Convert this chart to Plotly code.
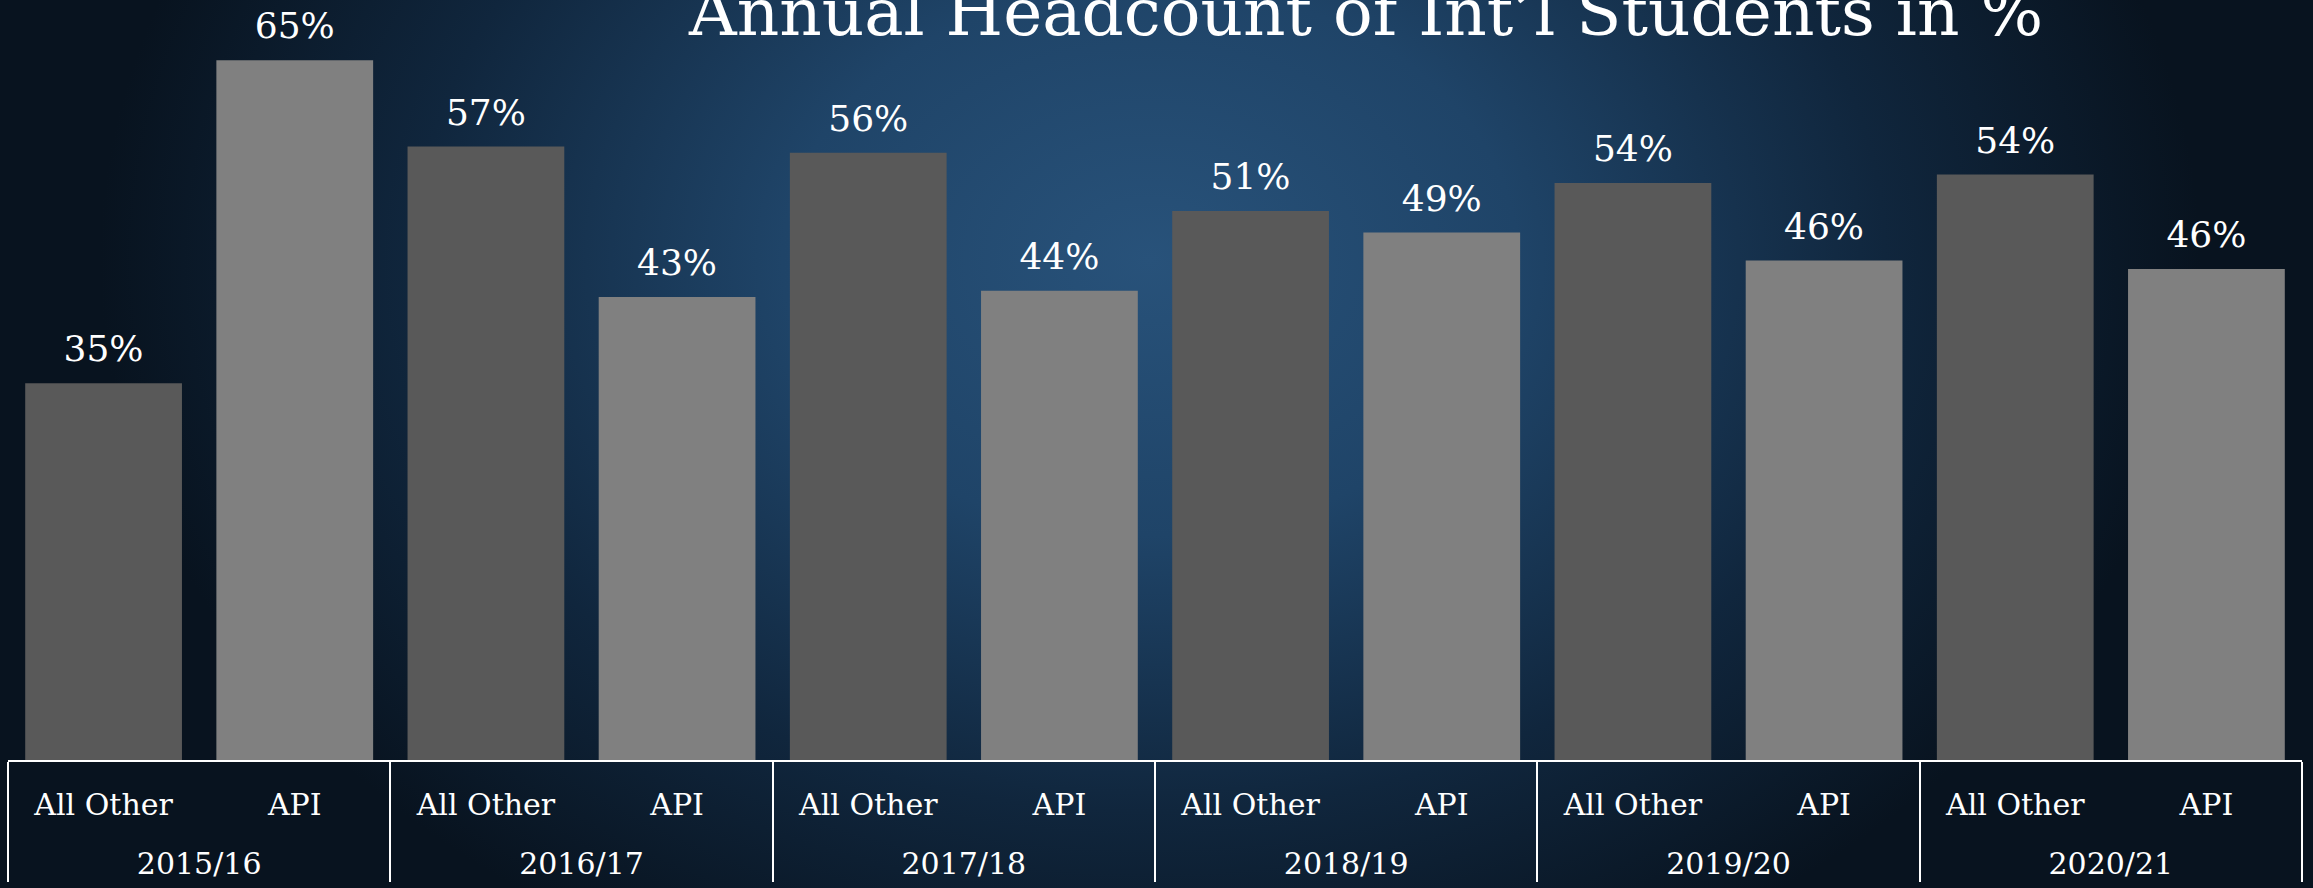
import base64
import plotly.graph_objects as go

# data
years = ["2015/16", "2016/17", "2017/18", "2018/19", "2019/20", "2020/21"]
groups = ["All Other", "API"]
all_other = [35, 57, 56.4, 51, 53.6, 54.4]
api = [65, 43, 43.6, 49, 46.4, 45.6]

W, H = 2313, 888
M = dict(l=8, r=11, t=0, b=128)
FONT = "DejaVu Serif, Liberation Serif, serif"
colors = {"All Other": "#595959", "API": "#808080"}

# interleave the two series so each year holds its pair
# (the trailing blank line on the inner label pushes the year row down)
x_year, x_group, vals, cols = [], [], [], []
for i, yr in enumerate(years):
    for g, v in zip(groups, [all_other[i], api[i]]):
        x_year.append(yr)
        x_group.append(g + "<br>\u00a0")
        vals.append(v)
        cols.append(colors[g])

# radial blue backdrop
svg = f"""<svg xmlns='http://www.w3.org/2000/svg' width='{W}' height='{H}' viewBox='0 0 {W} {H}' preserveAspectRatio='none'>
<defs><radialGradient id='g' gradientUnits='userSpaceOnUse' cx='1150' cy='260' r='1050'
 gradientTransform='translate(1150 260) scale(1 0.75) translate(-1150 -260)'>
<stop offset='0' stop-color='#28527a'/><stop offset='0.35' stop-color='#1f4468'/>
<stop offset='0.7' stop-color='#10263d'/><stop offset='1' stop-color='#08131f'/>
</radialGradient></defs><rect width='{W}' height='{H}' fill='url(#g)'/></svg>"""
bg = "data:image/svg+xml;base64," + base64.b64encode(svg.encode()).decode()

fig = go.Figure()
fig.add_trace(go.Bar(
    x=[x_year, x_group],
    y=vals,
    marker=dict(color=cols, line_width=0),
    hoverinfo="skip",
))
# value labels, lifted above the bars by an invisible marker
fig.add_trace(go.Scatter(
    x=[x_year, x_group],
    y=vals,
    mode="markers+text",
    marker=dict(size=19, color="rgba(0,0,0,0)"),
    text=[f"{round(v)}%" for v in vals],
    textposition="top center",
    textfont=dict(family=FONT, size=36, color="white"),
    cliponaxis=False,
    hoverinfo="skip",
))

pw = W - M["l"] - M["r"]
ph = H - M["t"] - M["b"]
fig.add_layout_image(
    source=bg, xref="paper", yref="paper",
    x=-M["l"] / pw, y=1 + M["t"] / ph,
    sizex=W / pw, sizey=H / ph,
    xanchor="left", yanchor="top", sizing="stretch", layer="below",
)

fig.update_layout(
    width=W, height=H,
    margin=M,
    paper_bgcolor="#0b1a2b",
    plot_bgcolor="rgba(0,0,0,0)",
    bargap=0.18,
    showlegend=False,
    font=dict(family=FONT, color="white"),
    title=dict(
        text="Annual Headcount of Int\u2019l Students in %",
        font=dict(family=FONT, size=66, color="white"),
        x=0.5906, xanchor="center", y=0.9865, yanchor="middle",
    ),
)
fig.update_xaxes(
    type="multicategory",
    range=[-0.5, len(vals) - 0.5],
    showline=True, linecolor="white", linewidth=2,
    showdividers=True, dividercolor="white", dividerwidth=2,
    tickfont=dict(family=FONT, size=30, color="white"),
    ticklabelstandoff=17,
    showgrid=False,
)
fig.update_yaxes(range=[0, 70.6], visible=False, showgrid=False, zeroline=False)

fig.write_html(
    "out.html",
    config={"displayModeBar": False},
    post_script="document.body.style.margin='0';document.body.style.overflow='hidden';",
)
